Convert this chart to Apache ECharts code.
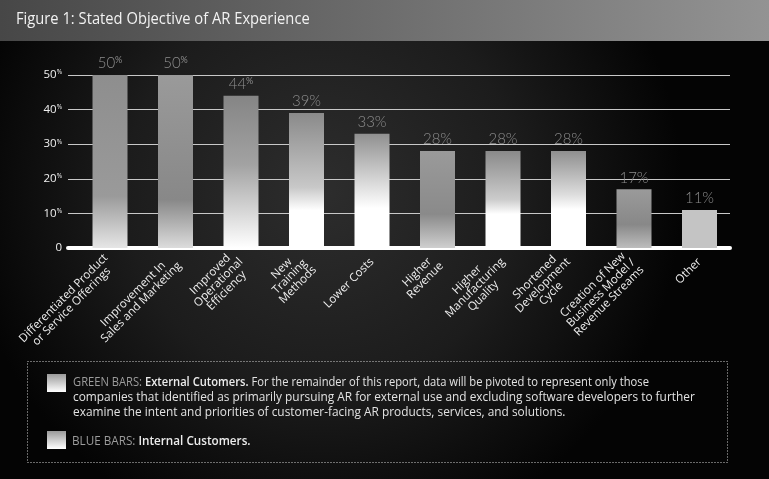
<!DOCTYPE html>
<html><head><meta charset="utf-8">
<script src="https://cdn.jsdelivr.net/npm/echarts@6/dist/echarts.min.js"></script>
<style>html,body{margin:0;padding:0;background:#000;}#c{width:769px;height:479px;}</style>
</head><body><div id="c"></div>
<script>
// ---- data ----
const titleText = 'Figure 1: Stated Objective of AR Experience';
const categories = [
  'Differentiated Product\nor Service Offerings',
  'Improvement In\nSales and Marketing',
  'Improved\nOperational\nEfficiency',
  'New\nTraining\nMethods',
  'Lower Costs',
  'Higher\nRevenue',
  'Higher\nManufacturing\nQuality',
  'Shortened\nDevelopment\nCycle',
  'Creation of New\nBusiness Model /\nRevenue Streams',
  'Other'
];
const values = [50, 50, 44, 39, 33, 28, 28, 28, 17, 11];
const yMin = 0, yMax = 50, yStep = 10;
const legendGreenHead = 'GREEN BARS: ';
const legendGreenBold = 'External Cutomers.';
const legendGreenLines = [
  ' For the remainder of this report, data will be pivoted to represent only those',
  'companies that identified as primarily pursuing AR for external use and excluding software developers to further',
  'examine the intent and priorities of customer-facing AR products, services, and solutions.'
];
const legendBlueHead = 'BLUE BARS: ';
const legendBlueText = 'Internal Customers.';

// ---- styles ----
const barFills = [
  [[0,'#8e8e8e'],[0.7,'#9a9a9a'],[1,'#e6e6e6']],
  [[0,'#9a9a9a'],[0.72,'#888888'],[1,'#dcdcdc']],
  [[0,'#858585'],[0.45,'#a2a2a2'],[1,'#ffffff']],
  [[0,'#8a8a8a'],[0.55,'#c8c8c8'],[0.72,'#ffffff'],[1,'#ffffff']],
  [[0,'#909090'],[0.45,'#dddddd'],[0.65,'#ffffff'],[1,'#ffffff']],
  [[0,'#9a9a9a'],[0.65,'#8a8a8a'],[1,'#cfcfcf']],
  [[0,'#8a8a8a'],[0.5,'#cccccc'],[0.65,'#ffffff'],[1,'#ffffff']],
  [[0,'#8f8f8f'],[0.45,'#dddddd'],[0.6,'#ffffff'],[1,'#ffffff']],
  [[0,'#9a9a9a'],[0.6,'#888888'],[1,'#bdbdbd']],
  [[0,'#c4c4c4'],[1,'#c4c4c4']]
];
function lg(stops){
  return new echarts.graphic.LinearGradient(0,0,0,1, stops.map(s=>({offset:s[0],color:s[1]})));
}

const chart = echarts.init(document.getElementById('c'), null, {renderer:'canvas'});
const FONT = '"Open Sans", "Noto Sans", sans-serif';
const sq = () => new echarts.graphic.LinearGradient(0,0,0,1,[{offset:0,color:'#9a9a9a'},{offset:1,color:'#ffffff'}]);

const option = {
  backgroundColor: new echarts.graphic.RadialGradient(0.42, 0.4, 0.75, [
    {offset:0, color:'#2d2d2d'},
    {offset:0.55, color:'#1c1c1c'},
    {offset:1, color:'#040404'}
  ]),
  animation: false,
  grid: [
    {left: 68, right: 39, top: 75, bottom: 231, containLabel: false},
    {left: 77.25, right: 36.75, top: 75, bottom: 231, containLabel: false}
  ],
  xAxis: [{
    type: 'category', gridIndex: 0, data: categories,
    axisLine: {show: true, lineStyle: {color: '#ffffff', width: 4}},
    axisTick: {show: false}, axisLabel: {show: false}
  }, {
    type: 'category', gridIndex: 1, data: categories,
    axisLine: {show: false},
    axisTick: {show: false},
    axisLabel: {
      interval: 0, rotate: 45, margin: 12,
      color: '#eeeeee', fontFamily: FONT, fontSize: 11.5, lineHeight: 11.5,
      formatter: v => v.split('\n').map(l => '{c|' + l + '}').join('\n'),
      rich: {c: {align: 'center', color: '#eeeeee', fontFamily: FONT, fontSize: 11.5, lineHeight: 11.5}}
    }
  }],
  yAxis: [{
    type: 'value', gridIndex: 0, min: yMin, max: yMax, interval: yStep,
    axisLine: {show: false}, axisTick: {show: false},
    splitLine: {show: true, lineStyle: {color: '#c8c8c8', width: 1}},
    axisLabel: {
      margin: 6, color: '#f0f0f0', fontFamily: FONT, fontSize: 11,
      formatter: v => v === 0 ? '{n|0}' : '{n|' + v + '}{p|%}',
      rich: {
        n: {color: '#f0f0f0', fontFamily: FONT, fontSize: 11.5},
        p: {color: '#f0f0f0', fontFamily: FONT, fontSize: 6.5, verticalAlign: 'top', padding: [0,0,4,0]}
      }
    }
  }, {
    type: 'value', gridIndex: 1, min: yMin, max: yMax, interval: yStep,
    axisLine: {show: false}, axisTick: {show: false}, splitLine: {show: false}, axisLabel: {show: false}
  }],
  series: [{
    type: 'bar', xAxisIndex: 1, yAxisIndex: 1,
    barWidth: 35,
    data: values.map((v, i) => ({value: v, itemStyle: {color: lg(barFills[i])}})),
    label: {
      show: true, position: 'top', distance: 4,
      formatter: p => p.dataIndex < 3 ? '{n|' + p.value + '}{p|%}' : '{n|' + p.value + '%}',
      rich: {
        n: {color: '#8c8c8c', fontFamily: 'Lato, "Open Sans", sans-serif', fontSize: 15, fontWeight: 300},
        p: {color: '#8c8c8c', fontFamily: 'Lato, sans-serif', fontSize: 9, verticalAlign: 'top', padding: [0,0,6,0]}
      }
    }
  }],
  graphic: [
    {type: 'rect', x: 0, y: 0, shape: {width: 769, height: 41}, z: 0,
     style: {fill: new echarts.graphic.LinearGradient(0,0,1,0,[{offset:0,color:'#474747'},{offset:1,color:'#939393'}])}},
    {type: 'text', x: 16, y: 20, scaleX: 0.95, z: 10,
     style: {text: titleText, fill: '#f2f2f2', font: '15.5px ' + FONT, textVerticalAlign: 'middle'}},
    {type: 'rect', x: 27.5, y: 361.5, shape: {width: 700, height: 101}, z: 5,
     style: {fill: 'rgba(0,0,0,0)', stroke: '#cfcfcf', lineWidth: 1, lineDash: [1, 2]}},
    {type: 'rect', x: 47, y: 374, shape: {width: 19, height: 18}, z: 6, style: {fill: sq()}},
    {type: 'rect', x: 47, y: 431, shape: {width: 19, height: 18}, z: 6, style: {fill: sq()}},
    {type: 'text', x: 73, y: 382, scaleX: 0.86, z: 6,
     style: {text: '{g|' + legendGreenHead + '}{b|' + legendGreenBold + '}{w|' + legendGreenLines[0] + '}', textVerticalAlign: 'middle',
       rich: {g: {fill: '#9c9c9c', font: '13px ' + FONT}, b: {fill: '#ececec', font: '600 13px ' + FONT}, w: {fill: '#e2e2e2', font: '13px ' + FONT}}}},
    {type: 'text', x: 73, y: 397, scaleX: 0.913, z: 6,
     style: {text: legendGreenLines[1], fill: '#e2e2e2', font: '13px ' + FONT, textVerticalAlign: 'middle'}},
    {type: 'text', x: 73, y: 412, scaleX: 0.913, z: 6,
     style: {text: legendGreenLines[2], fill: '#e2e2e2', font: '13px ' + FONT, textVerticalAlign: 'middle'}},
    {type: 'text', x: 72, y: 441, scaleX: 0.9, z: 6,
     style: {text: '{g|' + legendBlueHead + '}{b|' + legendBlueText + '}', textVerticalAlign: 'middle',
       rich: {g: {fill: '#9c9c9c', font: '13px ' + FONT}, b: {fill: '#ececec', font: '600 13px ' + FONT}}}}
  ]
};
chart.setOption(option);
</script></body></html>
